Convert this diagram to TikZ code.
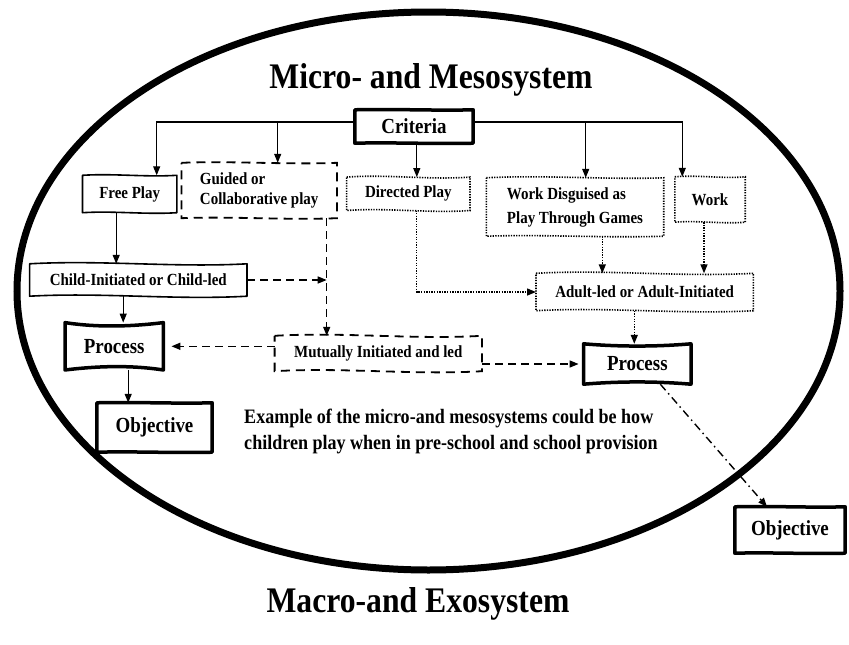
\documentclass[tikz,border=0pt]{standalone}
\usepackage{fontspec}
\setmainfont{Liberation Serif}[FakeStretch=0.88]
\usetikzlibrary{calc,arrows.meta}
\newcommand{\wbox}[6][]{\draw[#1] (#2.north west) .. controls ($(#2.north west)!0.33!(#2.north east)+(0,#3)$) and ($(#2.north west)!0.67!(#2.north east)+(0,#4)$) .. (#2.north east) -- (#2.south east) .. controls ($(#2.south east)!0.33!(#2.south west)+(0,#6)$) and ($(#2.south east)!0.67!(#2.south west)+(0,#5)$) .. (#2.south west) -- cycle;}
\tikzset{
 lbl/.style={font=\bfseries\fontsize{17}{22}\selectfont, inner sep=0pt, align=center},
 big/.style={font=\bfseries\fontsize{21.5}{24}\selectfont, inner sep=0pt},
 conn/.style={line width=1.2pt},
 arr/.style={-{Triangle[length=9pt,width=7pt]}},
 dashc/.style={line width=1.5pt, dash pattern=on 8pt off 5pt},
 dotc/.style={line width=1.4pt, dash pattern=on 1.3pt off 1.3pt},
 dashdotc/.style={line width=1.4pt, dash pattern=on 8pt off 4pt on 1.5pt off 4pt},
 solidbox/.style={line width=1.6pt, line join=round},
 thickbox/.style={line width=3.5pt, line join=round},
 dashbox/.style={line width=1.8pt, dash pattern=on 9pt off 6pt},
 dotbox/.style={line width=1.6pt, dash pattern=on 1.3pt off 1.3pt},
 title/.style={font=\bfseries\fontsize{36}{40}\selectfont, inner sep=0pt},
}
\begin{document}
\begin{tikzpicture}[x=1pt,y=-1pt]
\useasboundingbox (0,0) rectangle (849,645);
% big ellipse
\draw[line width=7pt] (428.5,291) ellipse [x radius=411.5pt, y radius=279pt];
\node[title] (ttl) at (431,80) {Micro- and Mesosystem};
\node[title] (ttl2) at (418,604) {Macro-and Exosystem};

% nodes
\node[big, minimum width=118pt, minimum height=33pt] (crit) at (414,126.5) {Criteria};
\node[lbl, minimum width=94pt, minimum height=37pt] (free) at (129.7,194) {Free Play};
\node[lbl, align=left, minimum width=155pt, minimum height=55pt, font=\bfseries\fontsize{17}{20}\selectfont] (guided) at (259.2,190.5) {Guided or\\Collaborative play};
\node[lbl, minimum width=123pt, minimum height=33pt] (directed) at (408.3,193.8) {Directed Play};
\node[lbl, align=left, minimum width=177pt, minimum height=58pt, font=\bfseries\fontsize{17}{24}\selectfont] (wd) at (575,207) {Work Disguised as\\Play Through Games};
\node[lbl, minimum width=70pt, minimum height=45pt] (work) at (710,199.5) {Work};
\node[lbl, minimum width=217pt, minimum height=32pt] (child) at (138.3,280) {Child-Initiated or Child-led};
\node[lbl, minimum width=217pt, minimum height=37pt] (adult) at (644.7,292) {Adult-led or Adult-Initiated};
\node[big, minimum width=98pt, minimum height=47pt] (procL) at (114.2,346.3) {Process};
\node[lbl, minimum width=207pt, minimum height=35pt] (mutual) at (378.3,353.5) {Mutually Initiated and led};
\node[big, minimum width=107pt, minimum height=40pt] (procR) at (637.3,364) {Process};
\node[big, minimum width=115pt, minimum height=49pt] (objL) at (154.5,427.5) {Objective};
\node[big, minimum width=110pt, minimum height=46pt] (objR) at (790,530) {Objective};
\node[font=\bfseries\fontsize{20.5}{26}\selectfont, align=left, inner sep=0pt] (ex) at (451,431) {Example of the micro-and mesosystems could be how\\children play when in pre-school and school provision};

% box outlines
\wbox[thickbox]{crit}{-1}{1}{-1}{1}
\wbox[solidbox]{free}{-2}{2}{-2}{2}
\wbox[dashbox]{guided}{-2}{2}{-2}{2}
\wbox[dotbox]{directed}{-3}{3}{-3}{3}
\wbox[dotbox]{wd}{-3}{2}{-2}{2}
\wbox[dotbox]{work}{-2}{2}{-2}{2}
\wbox[solidbox]{child}{-4}{4}{-4}{4}
\wbox[dotbox]{adult}{-4}{4}{-4}{4}
\wbox[thickbox]{procL}{5}{4}{-4}{-5}
\wbox[dashbox]{mutual}{-4}{4}{-4}{4}
\wbox[thickbox]{procR}{3}{3}{-3}{-3}
\wbox[thickbox]{objL}{-1}{1}{-1}{1}
\wbox[thickbox]{objR}{-1}{1}{-1}{1}

% connectors from Criteria
\coordinate (hl) at (0,122);
\draw[conn,arr] (crit.west |- hl) -| ([xshift=27pt]free.north);
\draw[conn,arr] ([xshift=18.5pt]guided.north |- hl) -- ([xshift=18.5pt]guided.north);
\coordinate (dtop) at ([xshift=8.5pt]directed.north);
\draw[conn,arr] (crit.south -| dtop) -- (dtop);
\draw[conn,arr] (crit.east |- hl) -| ([xshift=-27.7pt]work.north);
\draw[conn,arr] ([xshift=10.7pt]wd.north |- hl) -- ([xshift=10.7pt]wd.north);

% left column
\draw[conn,arr] ([xshift=-13.5pt]free.south) -- ([xshift=-13.5pt]free.south |- child.north);
\draw[conn,arr] ([xshift=9pt]procL.north |- child.south) -- ([xshift=9pt]procL.north);
\draw[conn,arr] ([xshift=14pt]procL.south) -- ([xshift=14pt]procL.south |- objL.north);

% dashed
\coordinate (gv) at ([xshift=67.5pt]guided.south);
\draw[dashc,arr] (gv) -- (gv |- mutual.north);
\draw[dashc,arr] (child.east) -- (child.east -| gv);
\draw[dashc,arr,shorten >=8pt] (mutual.west |- procL.east) -- (procL.east);
\draw[dashc,arr,shorten >=5pt] (mutual.east |- procR.west) -- (procR.west);

% dotted
\draw[dotc,arr] ([xshift=8.4pt]directed.south) |- (adult.west);
\draw[dotc,arr] ([xshift=27.3pt]wd.south) -- ([xshift=27.3pt]wd.south |- adult.north);
\draw[dotc,arr] ([xshift=-6pt]work.south) -- ([xshift=-6pt]work.south |- adult.north);
\coordinate (ap) at ([xshift=-3pt]procR.north);
\draw[dotc,arr] (adult.south -| ap) -- (ap);

% dash-dot
\draw[dashdotc,arr] ([xshift=23pt]procR.south) -- ([xshift=-23pt]objR.north);
\end{tikzpicture}
\end{document}
